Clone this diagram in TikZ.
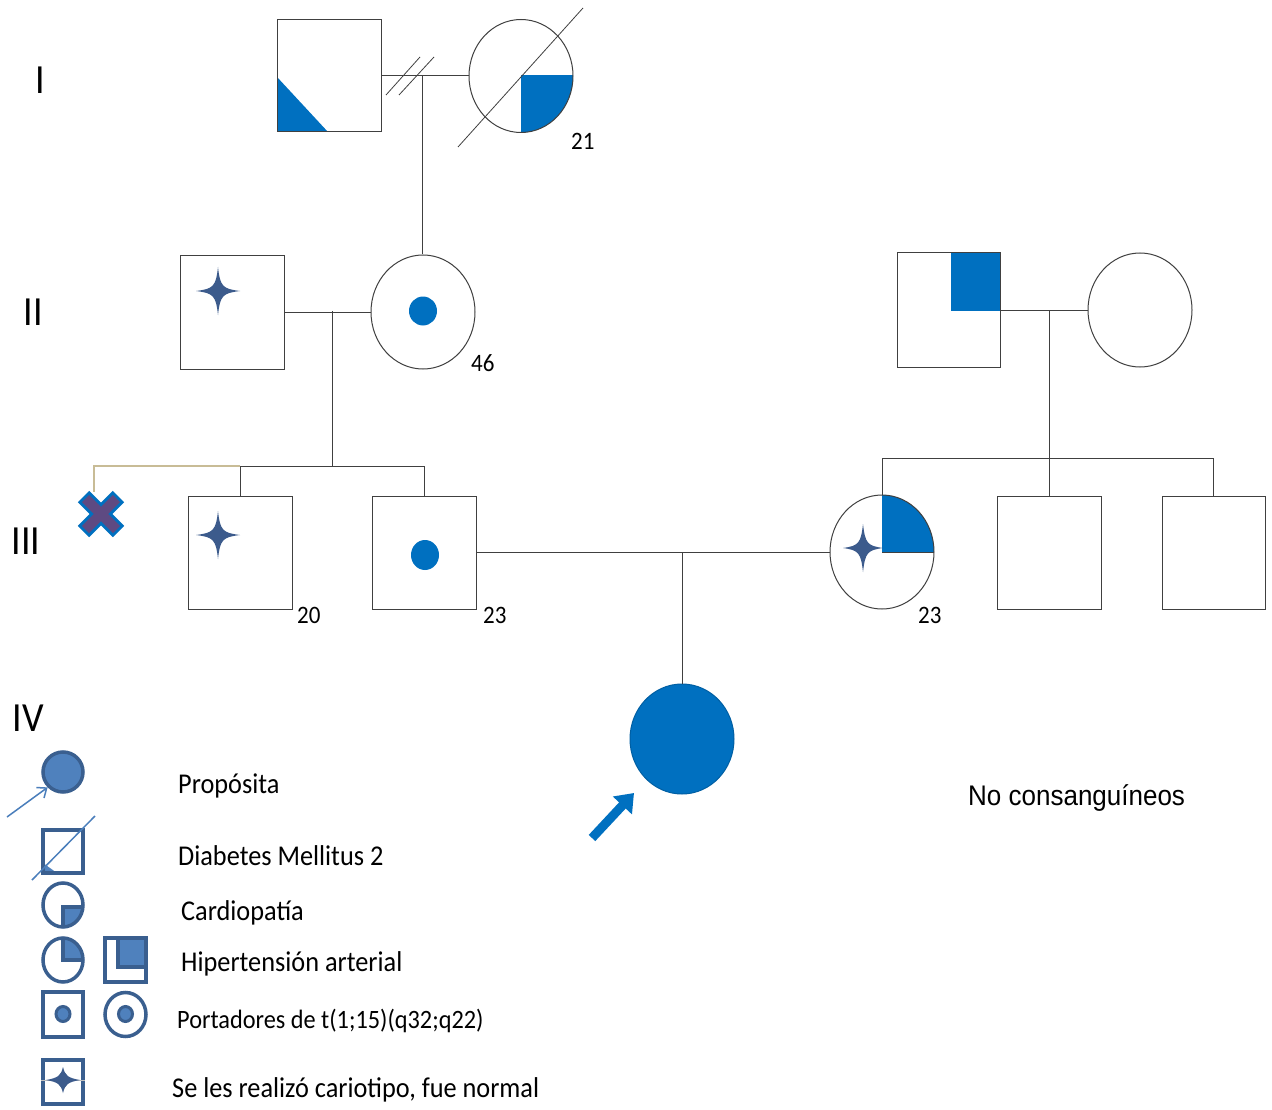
\documentclass[tikz,border=0pt]{standalone}
\usepackage{fontspec}
\setmainfont{Carlito}
\newfontfamily\arialf{Liberation Sans}
\usetikzlibrary{shapes.geometric,arrows.meta}
\definecolor{mainblue}{HTML}{0070C0}
\definecolor{starblue}{HTML}{3C5B8C}
\definecolor{legline}{HTML}{3A5F8F}
\definecolor{legfill}{HTML}{4F81BD}
\definecolor{lightarrow}{HTML}{4A7EBB}
\definecolor{linegray}{HTML}{404040}
\definecolor{tanline}{HTML}{C8BC96}
\definecolor{crosspurple}{HTML}{5E4A82}
\newcommand\vs[1]{\scalebox{1}[1.09]{#1}}
\newcommand\fourstar[4]{%
  \begin{scope}[shift={(#1,#2)}]
  \fill[starblue] (0,-#4) .. controls (2.2,-4.5) and (4.5,-2.2) .. (#3,0)
     .. controls (4.5,2.2) and (2.2,4.5) .. (0,#4)
     .. controls (-2.2,4.5) and (-4.5,2.2) .. (-#3,0)
     .. controls (-4.5,-2.2) and (-2.2,-4.5) .. (0,-#4) -- cycle;
  \end{scope}}
\tikzset{
  person/.style={draw=linegray, line width=1pt, minimum width=104pt, minimum height=113pt, inner sep=0pt},
  fperson/.style={person, shape=ellipse, minimum height=114pt},
  link/.style={draw=linegray, line width=1pt},
  num/.style={anchor=base west, inner sep=0pt, font=\fontsize{23}{27}\selectfont},
  gen/.style={anchor=base, inner sep=0pt, font=\fontsize{38}{44}\selectfont},
  legtext/.style={anchor=base west, inner sep=0pt, font=\fontsize{26.3}{30}\selectfont},
  legsym/.style={draw=legline, line width=3.5pt},
}
\begin{document}
\begin{tikzpicture}[x=1pt,y=-1pt]
\useasboundingbox (0,0) rectangle (1272,1110);
\fill[white] (0,0) rectangle (1272,1110);

% ---------- Generation I ----------
\fill[mainblue] (277,77) -- (277,132) -- (328,132) -- cycle;
\node[person, minimum height=112pt] (I1) at (329,76) {};
\begin{scope}
  \clip (521,76) rectangle (576,136);
  \fill[mainblue] (521,76) ellipse [x radius=52pt, y radius=56.5pt];
\end{scope}
\node[fperson, minimum height=113pt] (I2) at (521,76) {};
\draw[link] (I1.east) -- (I2.west);
\draw[linegray, line width=0.8pt] (386,95) -- (420,57);
\draw[linegray, line width=0.8pt] (399,95) -- (434,57);
\draw[linegray, line width=0.8pt] (458,147) -- (583,8);
\coordinate (m1) at (422,76);
\node[num] (n21) at (571,150) {\vs{21}};

% ---------- Generation II ----------
\node[person] (II1) at (232,312.5) {};
\fourstar{218}{291}{22}{24}
\node[fperson] (II2) at (423,312) {};
\fill[mainblue] (423,311) ellipse [x radius=14pt, y radius=14.5pt];
\draw[link] (m1) -- (m1 |- II2.north);
\draw[link] (II1.east |- II2.west) -- (II2.west);
\coordinate (m2) at (332,311);
\node[num] (n46) at (471,371) {\vs{46}};

\node[person, minimum width=103pt, minimum height=114pt] (II3) at (948.5,310) {};
\fill[mainblue] (951,253) rectangle (1000,311);
\node[fperson] (II4) at (1140,310) {};
\draw[link] (II3.east) -- (II4.west);
\coordinate (m3) at (1049,310);

% ---------- Generation III ----------
\node[person] (III1) at (240,552.5) {};
\fourstar{218}{535}{22}{24}
\node[person] (III2) at (424,552.5) {};
\fill[mainblue] (425,555) ellipse [x radius=14pt, y radius=15pt];
\node[num] (n20) at (297,623) {\vs{20}};
\node[num] (n23a) at (483,623) {\vs{23}};

\coordinate (s1) at (332,466);
\draw[link] (m2) -- (s1);
\draw[link] (III1.north) -- (III1.north |- s1) -- (III2.north |- s1) -- (III2.north);

% cross marker
\coordinate (xc) at (101,514);
\draw[tanline, line width=1.5pt] (III1.north |- s1) -- (94,466) -- (94,492);
\draw[mainblue, line width=16pt] (83.5,496.5) -- (118.5,531.5);
\draw[mainblue, line width=16pt] (83.5,531.5) -- (118.5,496.5);
\draw[crosspurple, line width=10pt] (85.5,498.5) -- (116.5,529.5);
\draw[crosspurple, line width=10pt] (85.5,529.5) -- (116.5,498.5);

\begin{scope}
  \clip (882,552) rectangle (936,492);
  \fill[mainblue] (882,552) ellipse [x radius=52pt, y radius=57pt];
\end{scope}
\node[fperson] (III3) at (882,552) {};
\draw[linegray, line width=1pt] (882,552) -- (934,552);
\fourstar{863}{548}{20}{24}
\node[num] (n23b) at (918,623) {\vs{23}};

\node[person] (III4) at (1049,552.5) {};
\node[person, minimum width=103pt] (III5) at (1213.5,552.5) {};
\coordinate (s2) at (1049,458);
\draw[link] (m3) -- (s2);
\draw[link] (III3.north) -- (III3.north |- s2) -- (III5.north |- s2) -- (III5.north);
\draw[link] (s2) -- (III4.north);

\draw[link] (III2.east |- III3.west) -- (III3.west);
\coordinate (m4) at (682,552);

% ---------- Generation IV ----------
\node[fperson, fill=mainblue, draw=mainblue!85!black, minimum height=110pt] (IV1) at (682,739) {};
\draw[link] (m4) -- (IV1.north);
\coordinate (arrowtail) at (592,838);
\coordinate (arrowtip) at (634,793);
\draw[mainblue, line width=9pt, -{Triangle[length=17pt,width=25pt]}] (arrowtail) -- (arrowtip);

% ---------- Generation labels ----------
\node[gen] (gI) at (40,94) {\vs{I}};
\node[gen] (gII) at (33,325) {\vs{II}};
\node[gen] (gIII) at (26,554) {\vs{III}};
\node[gen] (gIV) at (28,731) {\vs{IV}};

\node[anchor=base west, inner sep=0pt, font=\arialf\fontsize{26}{30}\selectfont] (nc) at (968,805) {\vs{No consanguíneos}};

% ---------- Legend ----------
\node[legsym, fill=legfill, ellipse, minimum width=40pt, minimum height=40pt, inner sep=0pt] (lp) at (63,772) {};
\coordinate (lpa) at (7,817);
\draw[lightarrow, line width=1.5pt, -{Straight Barb[length=8pt,width=13pt]}] (lpa) -- (lp.south west);
\node[legtext] (tp) at (178,793) {\vs{Propósita}};

\fill[legfill] (43,863) -- (43,873) -- (57,873) -- cycle;
\node[legsym, minimum width=40pt, minimum height=43pt, inner sep=0pt] (ld) at (63,851.5) {};
\draw[lightarrow, line width=1.5pt] (32,880) -- (95,816);
\node[legtext] (td) at (178,865) {\vs{Diabetes Mellitus 2}};

\begin{scope}
  \clip (63,905) rectangle (90,930);
  \fill[legfill] (63,905) ellipse [x radius=20pt, y radius=22pt];
\end{scope}
\draw[legline, line width=3.5pt] (63,927) -- (63,907) -- (83,907);
\node[legsym, ellipse, minimum width=40pt, minimum height=44pt, inner sep=0pt] (lc) at (63,905) {};
\node[legtext] (tc) at (181,920) {\vs{Cardiopatía}};

\begin{scope}
  \clip (63,960) rectangle (90,935);
  \fill[legfill] (63,960) ellipse [x radius=20pt, y radius=22pt];
\end{scope}
\draw[legline, line width=3.5pt] (63,938) -- (63,960) -- (83,960);
\node[legsym, ellipse, minimum width=40pt, minimum height=44pt, inner sep=0pt] (lh1) at (63,960) {};
\fill[legfill] (118,938) rectangle (146,967);
\draw[legline, line width=3.5pt] (118,938) -- (118,967) -- (146,967);
\node[legsym, minimum width=41pt, minimum height=44pt, inner sep=0pt] (lh2) at (125.5,960) {};
\node[legtext] (th) at (181,971) {\vs{Hipertensión arterial}};

\node[legsym, minimum width=40pt, minimum height=45pt, inner sep=0pt] (lt1) at (63,1014.5) {};
\draw[legline, line width=3pt, fill=legfill] (63,1014) ellipse [x radius=7pt, y radius=7.5pt];
\node[legsym, ellipse, minimum width=41pt, minimum height=44pt, inner sep=0pt] (lt2) at (125.5,1014.5) {};
\draw[legline, line width=3pt, fill=legfill] (125.5,1014) ellipse [x radius=7pt, y radius=7.5pt];
\node[legtext, font=\fontsize{24.3}{28}\selectfont] (tt) at (177,1028) {\vs{Portadores de t(1;15)(q32;q22)}};

\node[legsym, minimum width=40pt, minimum height=44pt, inner sep=0pt] (lk) at (63,1082) {};
\draw[gray!50, line width=0.6pt] (41,1080) -- (85,1080);
\fourstar{63}{1080}{17}{13}
\node[legtext] (tk) at (172,1097) {\vs{Se les realizó cariotipo, fue normal}};
\end{tikzpicture}
\end{document}
